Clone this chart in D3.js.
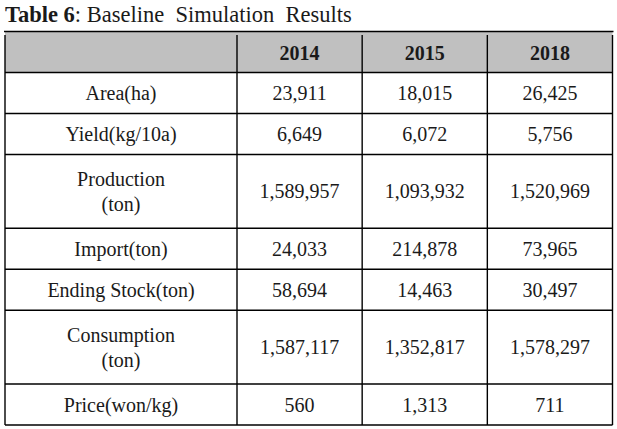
<!DOCTYPE html>
<html>
<head>
<meta charset="utf-8">
<script src="https://cdn.jsdelivr.net/npm/d3@7"></script>
<style>
  body { margin: 0; background: #fff; }
</style>
</head>
<body>
<svg id="chart" width="617" height="429"></svg>
<script>
// table contents
var years = ["2014", "2015", "2018"]
var rowLabels = [
	["Area(ha)"],
	["Yield(kg/10a)"],
	["Production", "(ton)"],
	["Import(ton)"],
	["Ending Stock(ton)"],
	["Consumption", "(ton)"],
	["Price(won/kg)"]
]
var values2014 = ["23,911", "6,649", "1,589,957", "24,033", "58,694", "1,587,117", "560"]
var values2015 = ["18,015", "6,072", "1,093,932", "214,878", "14,463", "1,352,817", "1,313"]
var values2018 = ["26,425", "5,756", "1,520,969", "73,965", "30,497", "1,578,297", "711"]

var svg = d3.select("#chart")
var tleft = 5, tright = 612.5, ttop = 31.5, tbottom = 425, firstcol = 237
var fs = 20
var ink = "#1a1a1a"
var serifFamily = "Liberation Serif, Times New Roman, serif"

svg.attr("font-family", serifFamily)

// title (nbsp keeps the double spacing)
var title = svg.append("text")
	.attr("x", 5)
	.attr("y", 22)
	.attr("fill", ink)
	.attr("font-family", serifFamily)
	.attr("font-size", 22.5)
title.append("tspan").attr("font-weight", "bold").attr("font-family", serifFamily).text("Table 6")
title.append("tspan").attr("font-family", serifFamily).text(": Baseline\u00a0 Simulation\u00a0 Results")

// row heights in units: single line = 1, two lines = 1.8
let units = [1].concat(rowLabels.map(d => d.length > 1 ? 1.8 : 1))
let edges = [0]
units.forEach(u => edges.push(edges[edges.length-1] + u))

let y = d3.scaleLinear()
	.domain([0, edges[edges.length-1]])
	.range([ttop, tbottom])

let x = d3.scaleBand()
	.domain(years)
	.range([firstcol, tright])

let cols = [values2014, values2015, values2018]

// header fill
svg.append("rect")
	.attr("x", tleft)
	.attr("y", y(edges[0]))
	.attr("width", tright - tleft)
	.attr("height", y(edges[1]) - y(edges[0]))
	.attr("fill", "#c0c0c0")

// header text
years.forEach(d => {
	svg.append("text")
	  .attr("x", x(d) + x.bandwidth()/2)
	  .attr("y", (y(edges[0]) + y(edges[1]))/2 + 8)
	  .attr("text-anchor", "middle")
	  .attr("fill", ink)
	  .attr("font-family", serifFamily)
	  .attr("font-weight", "bold")
	  .attr("font-size", fs)
	  .text(d)
})

// body rows
rowLabels.forEach((lines, i) => {
	let cy = (y(edges[i+1]) + y(edges[i+2]))/2
	let lh = 25
	lines.forEach((l, j) => {
		svg.append("text")
		  .attr("x", (tleft + firstcol)/2)
		  .attr("y", cy + (j - (lines.length-1)/2)*lh + 7)
		  .attr("text-anchor", "middle")
		  .attr("fill", ink)
		  .attr("font-family", serifFamily)
		  .attr("font-size", fs)
		  .text(l)
	})
	years.forEach((yr, k) => {
		svg.append("text")
		  .attr("x", x(yr) + x.bandwidth()/2)
		  .attr("y", cy + 7)
		  .attr("text-anchor", "middle")
		  .attr("fill", ink)
		  .attr("font-family", serifFamily)
		  .attr("font-size", fs)
		  .text(cols[k][i])
	})
})

// grid lines
let lw = 1.4
svg.append("line")
	.attr("x1", tleft - 1).attr("x2", tright + 1)
	.attr("y1", ttop).attr("y2", ttop)
	.attr("stroke", "#000").attr("stroke-width", 1.6)

edges.slice(1).forEach(e => {
	svg.append("line")
		.attr("x1", tleft).attr("x2", tright)
		.attr("y1", y(e)).attr("y2", y(e))
		.attr("stroke", "#000").attr("stroke-width", lw)
})

let vx = [tleft, firstcol].concat(years.slice(1).map(d => x(d))).concat([tright])
vx.forEach(v => {
	svg.append("line")
		.attr("x1", v).attr("x2", v)
		.attr("y1", ttop + 3.5).attr("y2", tbottom)
		.attr("stroke", "#000").attr("stroke-width", lw)
})
</script>
</body>
</html>
